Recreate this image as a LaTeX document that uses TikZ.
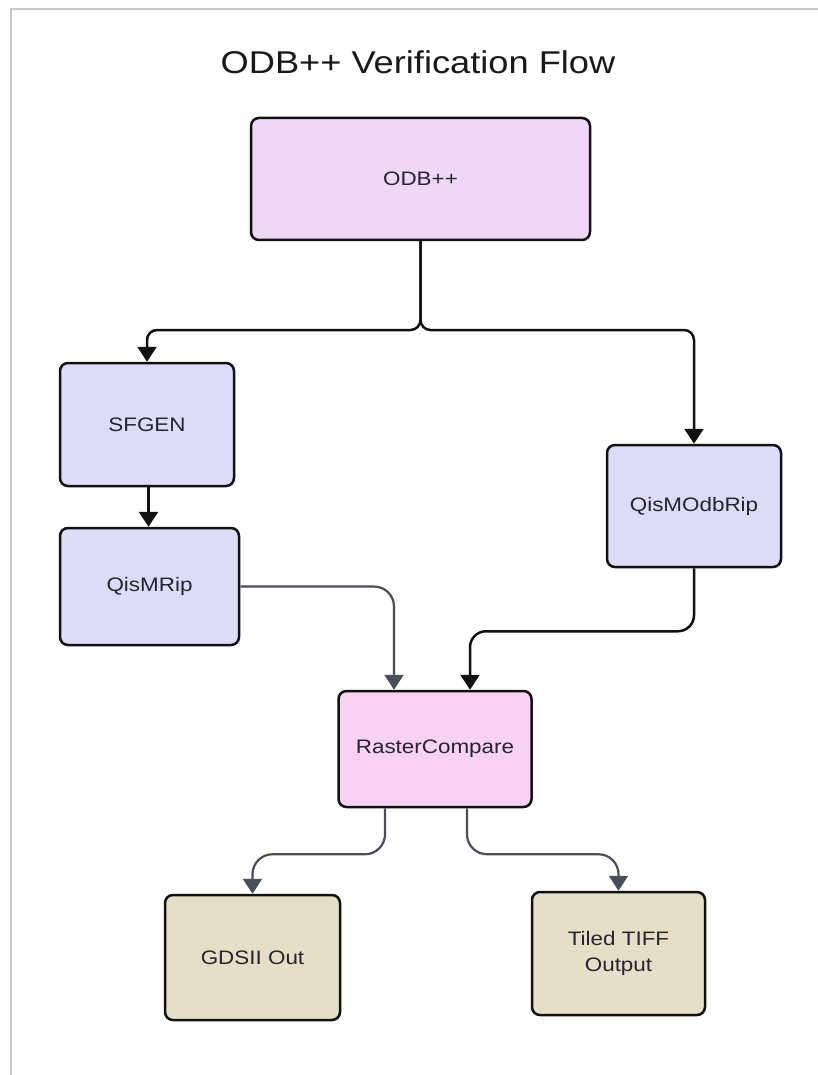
\documentclass[tikz,border=0pt]{standalone}
\usepackage{fontspec}
\setmainfont{Liberation Sans}[FakeStretch=1.15]
\usetikzlibrary{arrows.meta}
\definecolor{framegray}{HTML}{C8C8C8}
\definecolor{odbfill}{HTML}{EFD7F7}
\definecolor{bluefill}{HTML}{DCDCF8}
\definecolor{pinkfill}{HTML}{F9D1F3}
\definecolor{beigefill}{HTML}{E5DFC7}
\definecolor{slate}{HTML}{474F5A}
\definecolor{txt}{HTML}{25252D}
\definecolor{edge}{HTML}{111111}
\tikzset{
  box/.style={draw=edge, line width=2.5pt, rounded corners=8pt, inner sep=0pt,
    text=txt, font=\fontsize{19.5}{26}\selectfont, align=center},
  blk/.style={draw=edge, line width=2.5pt, -{Triangle[width=19pt,length=15pt]}},
  slt/.style={draw=slate, line width=2.2pt, -{Triangle[width=19pt,length=15pt]}},
}
\begin{document}
\begin{tikzpicture}[x=1pt,y=-1pt]
\useasboundingbox (0,0) rectangle (818,1075);
\fill[white] (0,0) rectangle (818,1075);
\draw[framegray, line width=2pt] (11,1075) -- (11,9) -- (818,9);
\node[text=black!90, font=\fontsize{31.5}{36}\selectfont] (title) at (418,62) {ODB++ Verification Flow};
\node[box, fill=odbfill, minimum width=339pt, minimum height=122pt] (odb) at (420.5,179) {ODB++};
\node[box, fill=bluefill, minimum width=174pt, minimum height=123pt] (sfgen) at (147,424.5) {SFGEN};
\node[box, fill=bluefill, minimum width=179pt, minimum height=117pt] (qismrip) at (149.5,586.5) {QisMRip};
\node[box, fill=bluefill, minimum width=174pt, minimum height=122pt] (qismodb) at (694,506) {QisMOdbRip};
\node[box, fill=pinkfill, minimum width=193pt, minimum height=116pt] (raster) at (435,749) {RasterCompare};
\node[box, fill=beigefill, minimum width=175pt, minimum height=125pt] (gdsii) at (252.5,957.5) {GDSII Out};
\node[box, fill=beigefill, minimum width=173pt, minimum height=123pt] (tiff) at (618.5,953.5) {Tiled TIFF\\Output};
\coordinate (split) at (420.5,330);
\draw[blk, rounded corners=10pt] (odb.south) -- (split) -| (sfgen.north);
\draw[blk, rounded corners=10pt] (odb.south) -- (split) -| (qismodb.north);
\draw[blk] ([xshift=1.5pt]sfgen.south) -- ([xshift=1.5pt]sfgen.south |- qismrip.north);
\draw[slt, rounded corners=20pt] (qismrip.east) -| ([xshift=-41pt]raster.north);
\draw[blk, rounded corners=16pt] (qismodb.south) -- ++(0,63) -| ([xshift=35pt]raster.north);
\draw[slt, rounded corners=20pt] ([xshift=-50pt]raster.south) -- ++(0,46) -| (gdsii.north);
\draw[slt, rounded corners=20pt] ([xshift=32pt]raster.south) -- ++(0,46) -| (tiff.north);
\end{tikzpicture}
\end{document}
